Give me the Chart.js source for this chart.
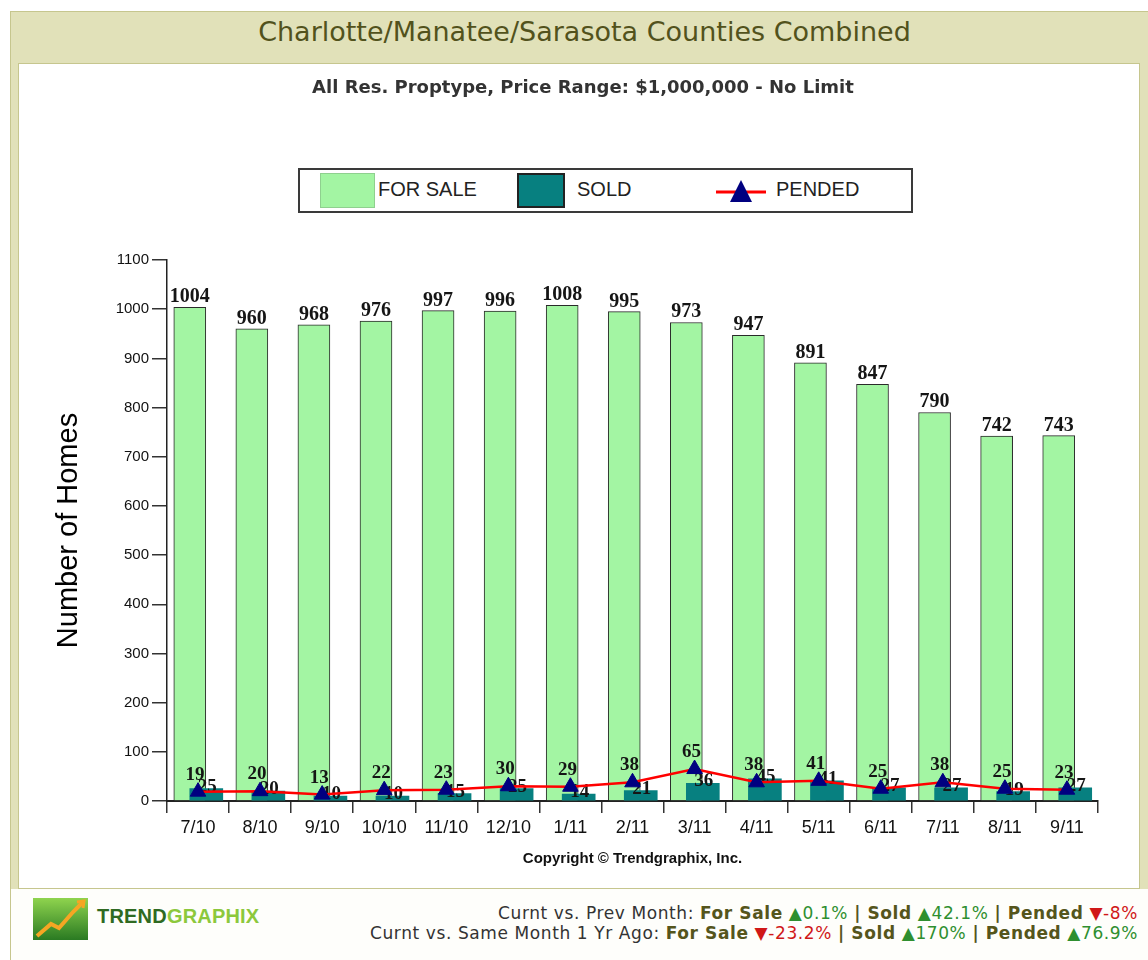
<!DOCTYPE html>
<html>
<head>
<meta charset="utf-8">
<script src="https://cdn.jsdelivr.net/npm/chart.js@4.4.0/dist/chart.umd.min.js"></script>
<style>
body { margin: 0; width: 1148px; height: 960px; overflow: hidden; position: relative; background: #fff; font-family: "DejaVu Sans", sans-serif; }
#frame { position: absolute; left: 10px; top: 11px; width: 1138px; height: 949px; border-left: 1px solid #c6c68e; border-top: 1px solid #c6c68e; background: #e1e1b9; }
#header { position: absolute; left: 11px; top: 12px; width: 1147px; height: 51px; line-height: 40px; text-align: center; color: #52521c; font-size: 27px; }
#panel { position: absolute; left: 18px; top: 63px; width: 1122px; height: 826px; box-sizing: border-box; border: 1px solid #c6c68e; background: #fff; }
#chart { position: absolute; left: 18px; top: 64px; }
#subtitle { position: absolute; left: 18px; top: 76px; width: 1130px; text-align: center; line-height: 22px; font-size: 18px; font-weight: bold; color: #333; }
#footer { position: absolute; left: 11px; top: 889px; width: 1137px; height: 71px; background: #fefefb; }
#legend { position: absolute; left: 298px; top: 168px; width: 615px; height: 45px; box-sizing: border-box; border: 2px solid #3a3a3a; background: #fff; font-family: "Liberation Sans", Arial, sans-serif; font-size: 20px; color: #222; }
#legend .sw { position: absolute; top: 3px; height: 35px; box-sizing: border-box; }
#legend .tx { position: absolute; top: 8px; line-height: 22px; }
#logo { position: absolute; left: 33px; top: 898px; width: 55px; height: 42px; background: linear-gradient(#8fd44e, #2a7a22); }
#brand { position: absolute; left: 97px; top: 905px; font-family: "Liberation Sans", Arial, sans-serif; font-weight: bold; font-size: 20px; color: #2f6a22; letter-spacing: 0.2px; }
#brand span { color: #8cc83c; }
#stats { position: absolute; right: 10px; top: 903px; text-align: right; font-size: 17px; letter-spacing: 0.6px; line-height: 20px; color: #333; }
#stats b { color: #55551c; }
#stats .up { color: #2f8f2f; }
#stats .dn { color: #d01818; }
</style>
</head>
<body>
<div id="frame"></div>
<div id="header">Charlotte/Manatee/Sarasota Counties Combined</div>
<div id="panel"></div>
<canvas id="chart" width="1122" height="824"></canvas>
<div id="subtitle"></div>
<div id="legend"></div>
<div id="footer"></div>
<div id="logo"><svg width="55" height="42"><polyline points="4,38 18,26 26,30 40,14 50,4" fill="none" stroke="#f5a623" stroke-width="4"/><polyline points="44,4 51,3 50,10" fill="none" stroke="#f5a623" stroke-width="3"/></svg></div>
<div id="brand">TREND<span>GRAPHIX</span></div>
<div id="stats"></div>
<script>
const months = ['7/10', '8/10', '9/10', '10/10', '11/10', '12/10', '1/11', '2/11', '3/11', '4/11', '5/11', '6/11', '7/11', '8/11', '9/11'];
const forSale = [1004, 960, 968, 976, 997, 996, 1008, 995, 973, 947, 891, 847, 790, 742, 743];
const sold = [25, 20, 10, 10, 15, 25, 14, 21, 36, 45, 41, 27, 27, 19, 27];
const pended = [19, 20, 13, 22, 23, 30, 29, 38, 65, 38, 41, 25, 38, 25, 23];
const seriesNames = ['FOR SALE', 'SOLD', 'PENDED'];
const yTicks = { min: 0, max: 1100, step: 100 };
const subtitle = 'All Res. Proptype, Price Range: $1,000,000 - No Limit';
const yTitle = 'Number of Homes';
const copyright = 'Copyright \u00a9 Trendgraphix, Inc.';

const GREEN = '#a3f5a3', TEAL = '#078080', RED = '#ff0000', NAVY = '#000080';
const BAR_SHIFT = 0.133; // fraction of a category the two bars sit off centre

document.getElementById('subtitle').textContent = subtitle;

// legend (html, fixed slots like the original)
const legend = document.getElementById('legend');
legend.innerHTML =
    `<div class="sw" style="left:20px;width:55px;background:${GREEN};border:1px solid #8fd08f"></div>` +
    `<div class="tx" style="left:78px">${seriesNames[0]}</div>` +
    `<div class="sw" style="left:217px;width:48px;background:${TEAL};border:2px solid #222"></div>` +
    `<div class="tx" style="left:277px">${seriesNames[1]}</div>` +
    `<svg style="position:absolute;left:415px;top:6px" width="52" height="30"><line x1="1" y1="16" x2="51" y2="16" stroke="${RED}" stroke-width="3"/><polygon points="26,4 37,26 15,26" fill="${NAVY}"/></svg>` +
    `<div class="tx" style="left:476px">${seriesNames[2]}</div>`;

// footer stats
function pct(a, b) {
    var v = (a / b - 1) * 100;
    var s = v.toFixed(1).replace(/\.0$/, '');
    var cls = v >= 0 ? 'up' : 'dn';
    return '<span class="' + cls + '">' + (v >= 0 ? '\u25B2' : '\u25BC') + s + '%</span>';
}
const last = months.length - 1;
document.getElementById('stats').innerHTML =
    'Curnt vs. Prev Month: <b>For Sale</b> ' + pct(forSale[last], forSale[last - 1]) +
    ' <b>| Sold</b> ' + pct(sold[last], sold[last - 1]) +
    ' <b>| Pended</b> ' + pct(pended[last], pended[last - 1]) + '<br>' +
    'Curnt vs. Same Month 1 Yr Ago: <b>For Sale</b> ' + pct(forSale[last], forSale[last - 12]) +
    ' <b>| Sold</b> ' + pct(sold[last], sold[last - 12]) +
    ' <b>| Pended</b> ' + pct(pended[last], pended[last - 12]);

// value labels drawn right after each dataset
const valueLabels = {
    id: 'valueLabels',
    afterDatasetDraw(chart, args) {
        const ds = chart.data.datasets[args.index];
        if (!ds.valueLabel) return;
        const ctx = chart.ctx;
        ctx.save();
        ctx.font = 'bold ' + ds.valueLabel.size + 'px "Liberation Serif", "Times New Roman", serif';
        ctx.fillStyle = '#151515';
        ctx.textAlign = 'center';
        ctx.textBaseline = 'alphabetic';
        args.meta.data.forEach(function (el, i) {
            const v = ds.valueLabel.values[i];
            if (v == null) return;
            ctx.fillText(String(v), el.x + ds.valueLabel.dx, el.y + ds.valueLabel.dy);
        });
        ctx.restore();
    }
};

const axisFont = { family: '"Liberation Sans", Arial, sans-serif' };
const xy = arr => arr.map((v, i) => ({ x: i, y: v }));

new Chart(document.getElementById('chart'), {
    type: 'bar',
    data: {
        labels: months,
        datasets: [
            {
                type: 'line', label: seriesNames[2], data: pended, xAxisID: 'x', order: -2,
                borderColor: RED, borderWidth: 2.5, tension: 0,
                pointStyle: 'triangle', pointRadius: 9, pointBackgroundColor: NAVY, pointBorderColor: NAVY, pointBorderWidth: 1,
                valueLabel: { values: pended, dx: -3, dy: -12, size: 19 }
            },
            {
                label: seriesNames[1], data: xy(sold), xAxisID: 'xSold', order: -1, grouped: false,
                backgroundColor: TEAL, borderWidth: 0, barThickness: 33,
                valueLabel: { values: sold, dx: 1, dy: 3, size: 19 }
            },
            {
                label: seriesNames[0], data: xy(forSale), xAxisID: 'xSale', order: 0, grouped: false,
                backgroundColor: GREEN, borderColor: '#2a2a2a', borderWidth: 1, barThickness: 32,
                valueLabel: { values: forSale, dx: 0, dy: -5, size: 20 }
            }
        ]
    },
    options: {
        responsive: false,
        animation: false,
        layout: { padding: { left: 0, right: 42, top: 196, bottom: 0 } },
        plugins: {
            legend: { display: false },
            tooltip: { enabled: false },
            title: { display: false }
        },
        scales: {
            x: {
                type: 'category',
                offset: true,
                grid: { offset: true, drawOnChartArea: false, tickLength: 12, color: '#333', lineWidth: 1.5 },
                border: { color: '#222', width: 2 },
                ticks: { font: Object.assign({ size: 18 }, axisFont), color: '#111', padding: 4, maxRotation: 0, autoSkip: false },
                title: { display: true, text: copyright, color: '#111', font: Object.assign({ size: 15, weight: 'bold' }, axisFont), padding: { top: 0, bottom: 20 } },
                afterFit(scale) { scale.height = 87; }
            },
            xSale: { type: 'linear', display: false, offset: false, bounds: 'data', min: -0.5 + BAR_SHIFT, max: months.length - 0.5 + BAR_SHIFT },
            xSold: { type: 'linear', display: false, offset: false, bounds: 'data', min: -0.5 - BAR_SHIFT, max: months.length - 0.5 - BAR_SHIFT },
            y: {
                min: yTicks.min, max: yTicks.max,
                ticks: { stepSize: yTicks.step, font: Object.assign({ size: 15 }, axisFont), color: '#111', padding: 3, callback: v => String(v) },
                grid: { drawOnChartArea: false, tickLength: 15, color: '#333', lineWidth: 1.5 },
                border: { color: '#222', width: 1.5 },
                title: { display: true, text: yTitle, color: '#000', font: Object.assign({ size: 29 }, axisFont), padding: { top: 34 } },
                afterFit(scale) { scale.width = 149; }
            }
        }
    },
    plugins: [valueLabels]
});
</script>
</body>
</html>
